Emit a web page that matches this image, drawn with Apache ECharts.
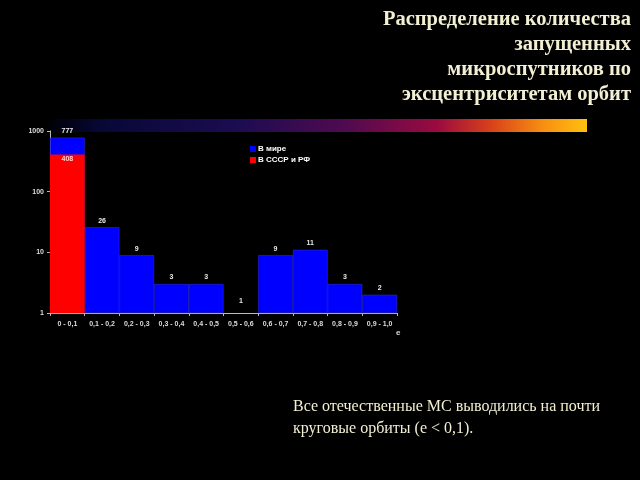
<!DOCTYPE html>
<html><head><meta charset="utf-8">
<script src="https://cdn.jsdelivr.net/npm/echarts@6/dist/echarts.min.js"></script>
<style>html,body{margin:0;padding:0;background:#000;}#c{width:640px;height:480px;}</style>
</head><body><div id="c"></div>
<script>
const categories = ['0 - 0,1','0,1 - 0,2','0,2 - 0,3','0,3 - 0,4','0,4 - 0,5','0,5 - 0,6','0,6 - 0,7','0,7 - 0,8','0,8 - 0,9','0,9 - 1,0'];
const worldValues = [777, 26, 9, 3, 3, 1, 9, 11, 3, 2];
const ussrValues = [408, null, null, null, null, null, null, null, null, null];
const titleLines = ['Распределение количества','запущенных','микроспутников по','эксцентриситетам орбит'];
const noteLines = ['Все отечественные МС выводились на почти','круговые орбиты (е < 0,1).'];

const chart = echarts.init(document.getElementById('c'), null, {renderer:'canvas'});
const graphics = [];
titleLines.forEach((t,i)=>{
  graphics.push({type:'text', right:9, top:9+i*25, style:{text:t, fill:'#f2efd2', font:'bold 20.5px "Liberation Serif", "DejaVu Serif", serif', textAlign:'right'}});
});
noteLines.forEach((t,i)=>{
  graphics.push({type:'text', left:293, top:399+i*22, style:{text:t, fill:'#f2efd2', font:'16px "Liberation Serif", "DejaVu Serif", serif'}});
});
graphics.push({type:'rect', shape:{x:50,y:119,width:537,height:13}, style:{fill:new echarts.graphic.LinearGradient(0,0,1,0,[
  {offset:0,color:'#000008'},{offset:0.1,color:'#080838'},{offset:0.35,color:'#1c0c50'},{offset:0.55,color:'#500a50'},{offset:0.72,color:'#9a0a40'},{offset:0.82,color:'#d8401a'},{offset:0.92,color:'#f89010'},{offset:1,color:'#ffc010'}])}, z:0});
graphics.push({type:'text', left:396, top:329, style:{text:'e', fill:'#dddddd', font:'bold 8px Arial, "Liberation Sans", sans-serif'}});

const worldData = worldValues.map(v => v === 1 ? {value:v, label:{distance:8}, itemStyle:{borderWidth:0}} : v);

chart.setOption({
  backgroundColor:'#000',
  animation:false,
  graphic:graphics,
  grid:{left:50, right:243, top:131, bottom:167, containLabel:false},
  legend:{orient:'vertical', left:245, top:140, itemWidth:6, itemHeight:6, itemGap:3, icon:'rect',
    itemStyle:{borderWidth:0},
    textStyle:{color:'#ffffff', fontSize:8, fontWeight:'bold', fontFamily:'Arial, "Liberation Sans", sans-serif', padding:[0,0,0,-3]},
    data:['В мире','В СССР и РФ']},
  xAxis:{type:'category', data:categories, boundaryGap:true,
    axisLine:{lineStyle:{color:'#bbbbbb', width:1}},
    axisTick:{show:true, alignWithLabel:false, length:3, lineStyle:{color:'#bbbbbb'}},
    axisLabel:{color:'#dddddd', fontSize:7, fontWeight:'bold', fontFamily:'Arial, "Liberation Sans", sans-serif', interval:0, margin:8}},
  yAxis:{type:'log', logBase:10, min:1, max:1000,
    axisLine:{show:true, lineStyle:{color:'#bbbbbb', width:1}},
    axisTick:{show:true, length:3, lineStyle:{color:'#bbbbbb'}},
    splitLine:{show:false},
    axisLabel:{color:'#dddddd', fontSize:7, fontWeight:'bold', fontFamily:'Arial, "Liberation Sans", sans-serif', margin:6,
      formatter:v => String(Math.round(v))}},
  series:[
    {name:'В мире', type:'bar', data:worldData, barCategoryGap:'0%', barGap:'-100%',
      itemStyle:{color:'#0000ff', borderColor:'#2a2ad0', borderWidth:0.6},
      label:{show:true, position:'top', distance:3, color:'#e8e8e8', fontSize:7, fontWeight:'bold', fontFamily:'Arial, "Liberation Sans", sans-serif'}, z:2},
    {name:'В СССР и РФ', type:'bar', data:ussrValues, barCategoryGap:'0%', barGap:'-100%',
      itemStyle:{color:'#ff0000'},
      label:{show:true, position:'insideTop', distance:1, color:'#ffd8d8', fontSize:7, fontWeight:'bold', fontFamily:'Arial, "Liberation Sans", sans-serif'}, z:3}
  ]
});
</script></body></html>
